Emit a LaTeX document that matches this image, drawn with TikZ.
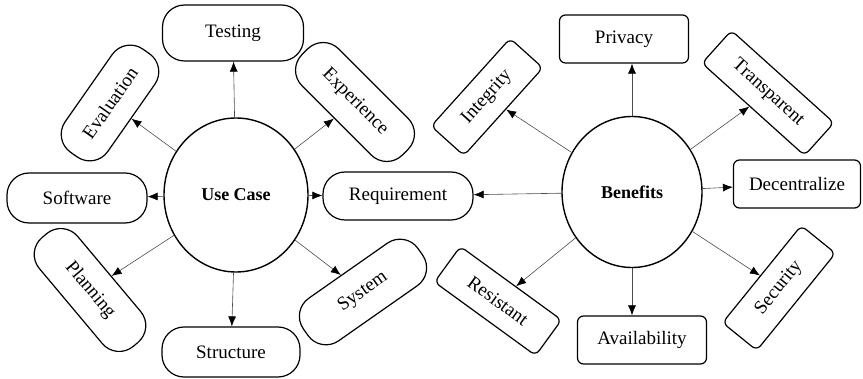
\documentclass[tikz,border=0pt]{standalone}
\usepackage{fontspec}
\setmainfont{Liberation Serif}
\usetikzlibrary{arrows.meta,shapes.geometric}

\begin{document}
\begin{tikzpicture}[x=1pt,y=-1pt,
      hub/.style={ellipse,draw=black,line width=1.4pt,inner sep=0pt,
        font=\fontsize{18}{20}\selectfont\bfseries},
      usebox/.style={rectangle,rounded corners=22pt,draw=black,line width=1.2pt,
        text centered,inner sep=0pt,minimum height=50pt,font=\fontsize{19}{22}\selectfont},
      benbox/.style={rectangle,rounded corners=6pt,draw=black,line width=1.2pt,
        text centered,inner sep=0pt,minimum height=46pt,font=\fontsize{19}{22}\selectfont},
      arr/.style={line width=0.6pt,draw=black!70,-{Latex[length=10pt,width=8pt,color=black]}}
      ]
      \useasboundingbox (0,0) rectangle (863,379);
      % use case side
      \node (uc) [hub,minimum width=144pt,minimum height=154pt] at (236,195) {Use Case};
      \node (test)   [usebox,minimum width=141pt,minimum height=56pt] at (233,33) {Testing};
      \node (eval)   [usebox,minimum width=126pt,minimum height=52pt,rotate=55] at (110,103) {Evaluation};
      \node (exper)  [usebox,minimum width=142pt,minimum height=52pt,rotate=-45] at (355,102) {Experience};
      \node (soft)   [usebox,minimum width=140pt] at (77,198) {Software};
      \node (req)    [usebox,minimum width=150pt,minimum height=48pt] at (398,196) {Requirement};
      \node (plan)   [usebox,minimum width=142pt,rotate=-50] at (90,290) {Planning};
      \node (struct) [usebox,minimum width=138pt] at (231,352) {Structure};
      \node (sys)    [usebox,minimum width=140pt,minimum height=52pt,rotate=35] at (363,292) {System};
      \draw[arr] (uc) -- (test);
      \draw[arr] (uc) -- (eval);
      \draw[arr] (uc) -- (exper);
      \draw[arr] (uc) -- (soft);
      \draw[arr] (uc) -- (req);
      \draw[arr] (uc) -- (plan);
      \draw[arr] (uc) -- (struct);
      \draw[arr] (uc) -- (sys);
      % benefits side
      \node (ben) [hub,minimum width=140pt,minimum height=151pt] at (632,192) {Benefits};
      \node (priv)   [benbox,minimum width=129pt,minimum height=48pt] at (624,39) {Privacy};
      \node (integ)  [benbox,minimum width=118pt,minimum height=44pt,rotate=48] at (487,97) {Integrity};
      \node (trans)  [benbox,minimum width=138pt,minimum height=44pt,rotate=-42] at (768,93) {Transparent};
      \node (dec)    [benbox,minimum width=127pt,minimum height=48pt] at (797,184) {Decentralize};
      \node (resist) [benbox,minimum width=125pt,minimum height=44pt,rotate=-36] at (498,301) {Resistant};
      \node (avail)  [benbox,minimum width=129pt,minimum height=48pt] at (642,340) {Availability};
      \node (secur)  [benbox,minimum width=125pt,minimum height=44pt,rotate=51] at (779,288) {Security};
      \draw[arr] (ben.north) -- (ben.north |- priv.south);
      \draw[arr] (ben) -- (integ);
      \draw[arr] (ben) -- (trans);
      \draw[arr] (ben) -- (req);
      \draw[arr] (ben) -- (dec);
      \draw[arr] (ben) -- (resist);
      \draw[arr] (ben.south) -- (ben.south |- avail.north);
      \draw[arr] (ben) -- (secur);
    \end{tikzpicture}
\end{document}
